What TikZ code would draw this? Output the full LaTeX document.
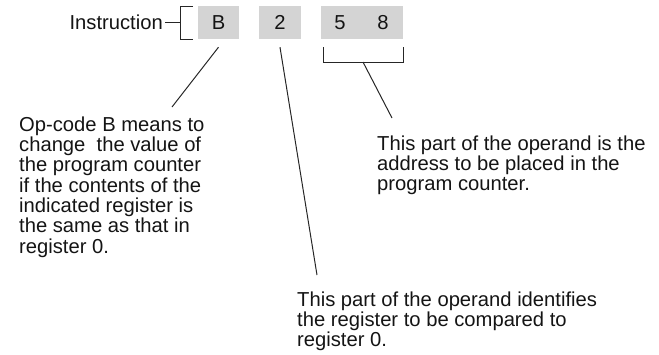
\documentclass[tikz,border=0pt]{standalone}
\usepackage{fontspec}
\setmainfont{Liberation Sans}
\begin{document}
\begin{tikzpicture}[x=1pt,y=-1pt,
  ink/.style={draw=black!85,line width=1pt},
  cell/.style={fill=black!17,draw=none,inner sep=0pt,minimum height=33pt},
  txt/.style={inner sep=0pt,align=left,anchor=base west,text=black!92,
    font=\fontsize{20.2}{20.3}\selectfont},
  celltxt/.style={text=black!92,font=\fontsize{20.2}{20.3}\selectfont}]
\useasboundingbox (0,0) rectangle (659,354);

% instruction cells
\node[cell,minimum width=41pt] (opc) at (218.5,22.5) {};
\node[celltxt] at (opc) {B};
\node[cell,minimum width=42pt] (reg) at (280,22.5) {};
\node[celltxt] at (reg) {2};
\node[cell,minimum width=82pt] (adr) at (362,22.5) {};
\node[celltxt] at (340,22.5) {5};
\node[celltxt] at (383,22.5) {8};

% label with its bracket
\node[txt,anchor=base east] (lbl) at (163,29) {Instruction};
\coordinate (brk) at (180,22.5);
\draw[ink] (lbl.east |- brk) ++(2,0) -- (brk);
\draw[ink] (193,6) -- (180,6) -- (180,39.5) -- (193,39.5);

% bracket under the address
\draw[ink] (323,47) -- (323,62) -- (403,62) -- (403,47);
\coordinate (adrmid) at (363,62);

% explanations (anchored at the baseline of their last line)
\node[txt] (t1) at (19,253) {Op-code B means to\\change\ \ the value of\\the program counter\\if the contents of the\\indicated register is\\the same as that in\\register 0.};
\node[txt] (t2) at (377,190.6) {This part of the operand is the\\address to be placed in the\\program counter.};
\node[txt] (t3) at (297,346.6) {This part of the operand identifies\\the register to be compared to\\register 0.};

% leader lines
\coordinate (e1) at (172,107);
\coordinate (e2) at (317,275);
\coordinate (e3) at (392,118);
\draw[ink] (opc.south) ++(0,8) -- (e1);
\draw[ink] (reg.south) ++(0,8) -- (e2);
\draw[ink] (adrmid) -- (e3);
\end{tikzpicture}
\end{document}
